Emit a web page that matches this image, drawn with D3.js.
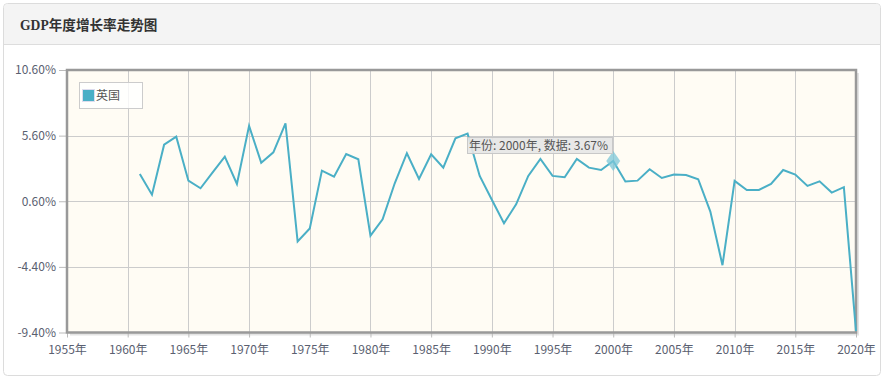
<!DOCTYPE html>
<html><head><meta charset="utf-8">
<script src="https://cdn.jsdelivr.net/npm/d3@7/dist/d3.min.js"></script>
<style>
html,body{margin:0;padding:0;background:#fff;}
svg{display:block;}
</style></head>
<body><svg id="c" width="884" height="379"></svg>
<script>
const title = "GDP年度增长率走势图";
const seriesName = "英国";
const years = d3.range(1961, 2021);
const growth = [2.68,1.10,4.91,5.52,2.17,1.59,2.80,4.00,1.92,6.34,3.54,4.33,6.54,-2.47,-1.48,2.93,2.47,4.20,3.80,
  -2.02,-0.77,1.97,4.26,2.30,4.18,3.16,5.40,5.75,2.53,0.72,-1.08,0.37,2.53,3.82,2.53,2.43,3.82,3.16,2.98,
  3.67,2.10,2.17,3.04,2.37,2.63,2.60,2.28,-0.19,-4.27,2.15,1.46,1.46,1.92,2.98,2.63,1.77,2.12,1.26,1.67,-9.30];
const yTicks = [10.6, 5.6, 0.6, -4.4, -9.4];
const xTicks = [1955,1960,1965,1970,1975,1980,1985,1990,1995,2000,2005,2010,2015,2020];
const hoverYear = 2000;

const svg = d3.select("#c");
const font = "'Microsoft YaHei','Noto Sans CJK SC','Noto Sans',sans-serif";

// panel
svg.append("rect").attr("x",3.5).attr("y",3.5).attr("width",877).attr("height",372).attr("rx",4)
  .attr("fill","#fff").attr("stroke","#dcdcdc");
svg.append("path").attr("d","M4,44 V8 a4,4 0 0 1 4,-4 H876 a4,4 0 0 1 4,4 V44 Z").attr("fill","#f4f4f4");
svg.append("line").attr("x1",4).attr("x2",880).attr("y1",44.5).attr("y2",44.5).attr("stroke","#dddddd");
svg.append("text").attr("x",20).attr("y",29.5).text(title)
  .attr("font-family","'Liberation Serif','Noto Sans CJK SC',serif").attr("font-weight","bold")
  .attr("font-size",13.6).attr("fill","#333");

const L=67, R=856, T=70, B=332.5;
const x = d3.scaleLinear().domain([1955,2020]).range([L,R]);
const y = d3.scaleLinear().domain([-9.4,10.6]).range([B,T]);

// shadow
svg.append("rect").attr("x",L+3).attr("y",T+3).attr("width",R-L).attr("height",B-T).attr("fill","#e4e4e4");
svg.append("rect").attr("x",L).attr("y",T).attr("width",R-L).attr("height",B-T).attr("fill","#fffcf4");

// grid
const g = svg.append("g");
g.selectAll(".vg").data(xTicks.slice(1,-1)).join("line")
  .attr("x1",d=>Math.round(x(d))+0.5).attr("x2",d=>Math.round(x(d))+0.5).attr("y1",T).attr("y2",B)
  .attr("stroke","#cccccc");
g.selectAll(".hg").data(yTicks.slice(1,-1)).join("line")
  .attr("y1",d=>Math.round(y(d))+0.5).attr("y2",d=>Math.round(y(d))+0.5).attr("x1",L).attr("x2",R)
  .attr("stroke","#cccccc");

// axes
const yAxis = d3.axisLeft(y).tickValues(yTicks).tickFormat(d=>d.toFixed(2)+"%").tickSize(7).tickPadding(3);
const ya = svg.append("g").attr("transform",`translate(${L-1},0)`).call(yAxis);
ya.select(".domain").remove();
ya.selectAll("line").attr("stroke","#bbb");
ya.selectAll("text").attr("font-family",font).attr("font-size",12).attr("fill","#5a6070");

const xAxis = d3.axisBottom(x).tickValues(xTicks).tickFormat(d=>d+"年").tickSize(5).tickPadding(8);
const xa = svg.append("g").attr("transform",`translate(0,${B})`).call(xAxis);
xa.select(".domain").remove();
xa.selectAll("line").attr("stroke","#bbb");
xa.selectAll("text").attr("font-family",font).attr("font-size",12).attr("fill","#5a6070");

// frame
svg.append("rect").attr("x",L).attr("y",T).attr("width",R-L).attr("height",B-T)
  .attr("fill","none").attr("stroke","#999").attr("stroke-width",2.5);

// line
const data = years.map((yr,i)=>({yr, v:growth[i]}));
svg.append("path").datum(data)
  .attr("d", d3.line().x(d=>x(d.yr)).y(d=>y(d.v)))
  .attr("fill","none").attr("stroke","#4aafc6").attr("stroke-width",2).attr("stroke-linejoin","miter");

// legend
const lg = svg.append("g");
lg.append("rect").attr("x",79.5).attr("y",82.5).attr("width",63).attr("height",26)
  .attr("fill","#ffffff").attr("fill-opacity",0.8).attr("stroke","#cccccc");
lg.append("rect").attr("x",82.5).attr("y",89.5).attr("width",12).attr("height",12)
  .attr("fill","#4aafc6").attr("stroke","#dde").attr("stroke-width",1);
lg.append("text").attr("x",96).attr("y",100).text(seriesName)
  .attr("font-family",font).attr("font-size",12).attr("fill","#555");

// hover marker + tooltip
const hv = data.find(d=>d.yr===hoverYear);
const hx = x(hv.yr), hy = y(hv.v);
svg.append("path").attr("d",`M${hx},${hy-10} L${hx+7},${hy} L${hx},${hy+10} L${hx-7},${hy} Z`)
  .attr("fill","#7cc7d8").attr("fill-opacity",0.75);
const tip = svg.append("g");
tip.append("rect").attr("x",467.5).attr("y",137.5).attr("width",145).attr("height",16)
  .attr("fill","#e6e6e6").attr("fill-opacity",0.9).attr("stroke","#c8c8c8");
tip.append("text").attr("x",469).attr("y",150).text(`年份: ${hoverYear}年, 数据: ${hv.v.toFixed(2)}%`)
  .attr("font-family",font).attr("font-size",12).attr("fill","#555");
</script></body></html>
